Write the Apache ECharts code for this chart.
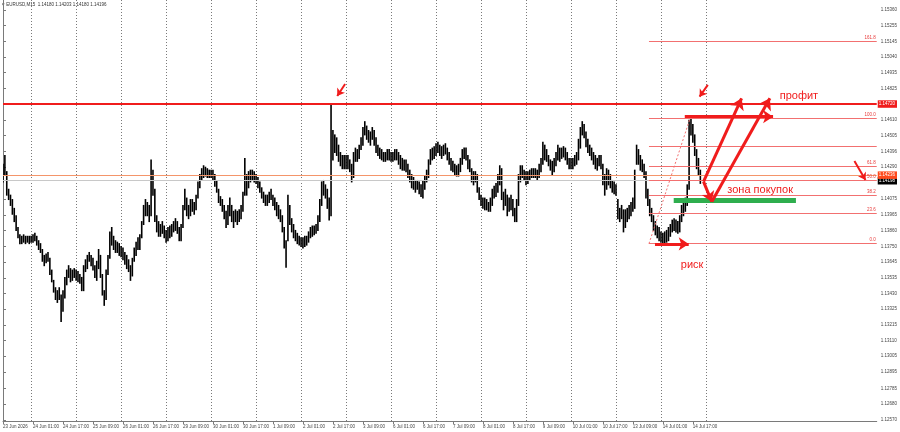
<!DOCTYPE html>
<html><head><meta charset="utf-8">
<script src="https://cdn.jsdelivr.net/npm/echarts@6/dist/echarts.min.js"></script>
<style>html,body{margin:0;padding:0;background:#fff}#c{width:900px;height:432px}</style>
</head><body><div id="c"></div>
<script>
// hourly highs (bar index 0 = 23 Jun 09:00)
const hiVals = [
1.1431,1.1437,1.1426,1.1414,1.1410,1.1407,1.1401,1.1396,1.1388,1.1383,1.1382,1.1383,1.1382,1.1382,1.1382,1.1382,
1.1383,1.1384,1.1382,1.1379,1.1377,1.1373,1.1369,1.1370,1.1371,1.1367,1.1359,1.1352,1.1347,1.1345,1.1347,1.1342,1.1345,1.1354,1.1359,1.1362,1.1360,1.1359,1.1360,1.1359,
1.1358,1.1356,1.1354,1.1362,1.1366,1.1369,1.1371,1.1369,1.1367,1.1362,1.1365,1.1373,1.1369,1.1356,1.1345,1.1359,1.1369,1.1385,1.1388,1.1382,1.1379,1.1378,1.1377,1.1375,
1.1374,1.1371,1.1369,1.1366,1.1362,1.1367,1.1374,1.1378,1.1381,1.1383,1.1392,1.1403,1.1407,1.1405,1.1403,1.1434,1.1427,1.1414,1.1396,1.1392,1.1390,1.1392,1.1389,1.1386,
1.1388,1.1389,1.1390,1.1392,1.1394,1.1392,1.1388,1.1390,1.1403,1.1414,1.1408,1.1403,1.1407,1.1407,1.1405,1.1410,1.1419,1.1424,1.1428,1.1430,1.1429,1.1428,1.1427,1.1427,
1.1427,1.1424,1.1420,1.1414,1.1409,1.1407,1.1403,1.1399,1.1403,1.1408,1.1403,1.1399,1.1400,1.1399,1.1400,1.1403,1.1412,1.1435,1.1424,1.1426,1.1427,1.1427,1.1426,1.1424,
1.1422,1.1419,1.1415,1.1412,1.1410,1.1410,1.1412,1.1414,1.1410,1.1408,1.1405,1.1403,1.1400,1.1396,1.1388,1.1379,1.1410,1.1403,1.1394,1.1390,1.1386,1.1384,1.1382,1.1381,
1.1381,1.1382,1.1382,1.1385,1.1388,1.1389,1.1389,1.1390,1.1396,1.1407,1.1419,1.1420,1.1417,1.1414,1.1408,1.1471,1.1454,1.1451,1.1449,1.1444,1.1439,1.1437,1.1437,1.1437,
1.1437,1.1434,1.1431,1.1439,1.1442,1.1441,1.1444,1.1449,1.1456,1.1460,1.1457,1.1454,1.1453,1.1456,1.1454,1.1449,1.1444,1.1442,1.1441,1.1439,1.1439,1.1441,1.1441,1.1439,
1.1439,1.1441,1.1441,1.1439,1.1437,1.1435,1.1434,1.1434,1.1431,1.1427,1.1424,1.1422,1.1420,1.1420,1.1419,1.1417,1.1420,1.1423,1.1427,1.1434,1.1441,1.1442,1.1443,1.1445,
1.1446,1.1444,1.1443,1.1444,1.1445,1.1442,1.1439,1.1435,1.1433,1.1431,1.1430,1.1431,1.1435,1.1441,1.1442,1.1442,1.1437,1.1434,1.1428,1.1426,1.1426,1.1424,1.1415,1.1410,
1.1408,1.1408,1.1407,1.1405,1.1408,1.1414,1.1416,1.1418,1.1424,1.1430,1.1428,1.1412,1.1414,1.1410,1.1408,1.1410,1.1407,1.1401,1.1407,1.1424,1.1430,1.1430,1.1427,1.1426,
1.1426,1.1427,1.1428,1.1428,1.1428,1.1427,1.1431,1.1435,1.1446,1.1444,1.1441,1.1437,1.1434,1.1433,1.1435,1.1439,1.1444,1.1442,1.1442,1.1443,1.1442,1.1439,1.1435,1.1435,
1.1435,1.1437,1.1439,1.1448,1.1456,1.1460,1.1458,1.1453,1.1448,1.1444,1.1442,1.1439,1.1437,1.1435,1.1437,1.1437,1.1431,1.1424,1.1428,1.1427,1.1424,1.1420,1.1419,1.1417,
1.1407,1.1401,1.1403,1.1400,1.1400,1.1401,1.1403,1.1405,1.1408,1.1427,1.1444,1.1441,1.1437,1.1434,1.1431,1.1426,1.1414,1.1407,1.1401,1.1396,1.1392,1.1389,1.1388,1.1385,
1.1384,1.1385,1.1386,1.1388,1.1390,1.1393,1.1394,1.1393,1.1392,1.1396,1.1403,1.1407,1.1408,1.1417,1.1461,1.1463,1.1458,1.1451,1.1441,1.1435,1.1427
];
// hourly lows
const loVals = [
1.1419,1.1424,1.1410,1.1407,1.1403,1.1397,1.1392,1.1386,1.1381,1.1377,1.1377,1.1378,1.1377,1.1378,1.1377,1.1378,
1.1378,1.1379,1.1376,1.1373,1.1371,1.1365,1.1362,1.1364,1.1365,1.1356,1.1351,1.1344,1.1339,1.1337,1.1339,1.1324,1.1331,1.1340,1.1349,1.1354,1.1351,1.1352,1.1354,1.1352,
1.1351,1.1350,1.1345,1.1345,1.1358,1.1360,1.1365,1.1362,1.1359,1.1354,1.1352,1.1360,1.1354,1.1342,1.1335,1.1339,1.1356,1.1367,1.1376,1.1373,1.1371,1.1371,1.1369,1.1368,
1.1366,1.1363,1.1360,1.1358,1.1352,1.1355,1.1365,1.1369,1.1373,1.1373,1.1381,1.1390,1.1396,1.1396,1.1392,1.1396,1.1410,1.1392,1.1385,1.1382,1.1382,1.1384,1.1381,1.1378,
1.1379,1.1381,1.1382,1.1385,1.1386,1.1384,1.1379,1.1379,1.1388,1.1400,1.1396,1.1394,1.1396,1.1399,1.1397,1.1400,1.1408,1.1415,1.1420,1.1422,1.1423,1.1422,1.1422,1.1422,
1.1420,1.1416,1.1412,1.1405,1.1403,1.1399,1.1394,1.1388,1.1390,1.1396,1.1392,1.1388,1.1392,1.1390,1.1392,1.1394,1.1399,1.1410,1.1410,1.1415,1.1419,1.1420,1.1419,1.1418,
1.1415,1.1412,1.1408,1.1405,1.1403,1.1403,1.1405,1.1407,1.1403,1.1400,1.1396,1.1394,1.1392,1.1385,1.1374,1.1361,1.1379,1.1390,1.1385,1.1381,1.1379,1.1377,1.1376,1.1375,
1.1374,1.1375,1.1376,1.1378,1.1381,1.1382,1.1383,1.1384,1.1386,1.1392,1.1403,1.1410,1.1408,1.1401,1.1393,1.1396,1.1434,1.1439,1.1437,1.1433,1.1430,1.1428,1.1428,1.1428,
1.1428,1.1426,1.1419,1.1422,1.1433,1.1433,1.1435,1.1441,1.1444,1.1451,1.1448,1.1446,1.1444,1.1448,1.1444,1.1439,1.1437,1.1435,1.1434,1.1433,1.1433,1.1434,1.1434,1.1433,
1.1433,1.1434,1.1434,1.1431,1.1428,1.1427,1.1427,1.1426,1.1422,1.1419,1.1415,1.1414,1.1412,1.1414,1.1411,1.1409,1.1408,1.1414,1.1419,1.1422,1.1431,1.1434,1.1435,1.1437,
1.1439,1.1437,1.1435,1.1437,1.1438,1.1434,1.1431,1.1427,1.1426,1.1424,1.1423,1.1423,1.1426,1.1431,1.1435,1.1434,1.1428,1.1426,1.1419,1.1417,1.1419,1.1412,1.1407,1.1403,
1.1401,1.1400,1.1400,1.1399,1.1399,1.1403,1.1408,1.1409,1.1412,1.1417,1.1407,1.1400,1.1403,1.1396,1.1399,1.1400,1.1396,1.1392,1.1392,1.1403,1.1419,1.1422,1.1420,1.1417,
1.1418,1.1420,1.1422,1.1422,1.1422,1.1420,1.1422,1.1426,1.1431,1.1434,1.1433,1.1430,1.1427,1.1424,1.1426,1.1430,1.1434,1.1433,1.1435,1.1436,1.1434,1.1431,1.1428,1.1428,
1.1428,1.1430,1.1431,1.1434,1.1442,1.1451,1.1449,1.1443,1.1439,1.1437,1.1434,1.1431,1.1428,1.1427,1.1430,1.1428,1.1417,1.1410,1.1414,1.1417,1.1415,1.1412,1.1411,1.1410,
1.1394,1.1392,1.1394,1.1385,1.1388,1.1392,1.1394,1.1396,1.1399,1.1401,1.1431,1.1431,1.1427,1.1426,1.1422,1.1408,1.1403,1.1396,1.1392,1.1386,1.1383,1.1381,1.1379,1.1378,
1.1377,1.1377,1.1378,1.1379,1.1382,1.1385,1.1386,1.1385,1.1384,1.1385,1.1392,1.1396,1.1399,1.1403,1.1414,1.1451,1.1446,1.1437,1.1428,1.1424,1.1418
];
const xTickIdx = [0,16,32,48,64,80,96,112,128,144,160,176,192,208,224,240,256,272,288,304,320,336,352,368];
const xTickLabels = ['23 Jun 2026','24 Jun 01:00','24 Jun 17:00','25 Jun 09:00','26 Jun 01:00','26 Jun 17:00','29 Jun 09:00','30 Jun 01:00','30 Jun 17:00','1 Jul 09:00','2 Jul 01:00','2 Jul 17:00','3 Jul 09:00','6 Jul 01:00','6 Jul 17:00','7 Jul 09:00','8 Jul 01:00','8 Jul 17:00','9 Jul 09:00','10 Jul 01:00','10 Jul 17:00','13 Jul 09:00','14 Jul 01:00','14 Jul 17:00'];
const dayStartIdx = [15,39,63,87,111,135,159,183,207,231,255,279,303,327,351,375];
const yTickVals = [1.15360,1.15255,1.15145,1.15040,1.14935,1.14825,1.14610,1.14505,1.14396,1.14290,1.14075,1.13965,1.13860,1.13750,1.13645,1.13535,1.13430,1.13325,1.13215,1.13110,1.13005,1.12895,1.12785,1.12680,1.12570];
const fibNames = ['0.0','23.6','38.2','50.0','61.8','','100.0','161.8'];
const fibPrices = [1.13770,1.13975,1.14098,1.14200,1.14298,1.14434,1.14622,1.15149];
const resistPrice = 1.14720, askPrice = 1.14236, bidPrice = 1.14198;
const titleText = '\u25BE EURUSD,M15  1.14180 1.14203 1.14180 1.14196';

const RED = '#f01c1c';
const FONT = 'Liberation Sans';
const yMin = 1.12563, yMax = 1.15428;
const barData = hiVals.map((h, k) => [k, h, loVals[k]]);

function seg(x1, y1, x2, y2, color, width, arrow, asz, type) {
  return [
    {coord: [x1, y1], symbol: 'none', lineStyle: {color, width, type: type || 'solid'}},
    {coord: [x2, y2], symbol: arrow ? 'arrow' : 'none', symbolSize: asz || 9, itemStyle: {color}}
  ];
}
const fibStart = 344.6, xMax = 466.1;
const markSegs = [];
fibPrices.forEach((p, k) => {
  const s = seg(fibStart, p, xMax, p, '#f27070', 1, false);
  s[0].label = {show: !!fibNames[k], formatter: fibNames[k], position: 'insideEndTop', color: '#e83a3a', fontSize: 4.5, distance: 1, fontFamily: FONT};
  markSegs.push(s);
});
markSegs.push(seg(fibStart, fibPrices[0], 366.5, fibPrices[6], '#f27070', 1, false, 0, [2, 2]));
// bold annotations
markSegs.push(seg(357.8, 1.14062, 423.0, 1.14062, '#2fae4e', 5, false));
markSegs.push(seg(363.7, 1.14634, 410.8, 1.14634, RED, 3, true, 10));
markSegs.push(seg(347.8, 1.13768, 365.8, 1.13768, RED, 3, true, 10));
markSegs.push(seg(373.7, 1.14192, 394.0, 1.14759, RED, 3, true, 11));
markSegs.push(seg(373.7, 1.14192, 378.1, 1.14055, RED, 3, true, 10));
markSegs.push(seg(378.1, 1.14055, 409.1, 1.14759, RED, 3, true, 11));
markSegs.push(seg(182.5, 1.14856, 178.3, 1.14775, RED, 2, true, 7));
markSegs.push(seg(376.0, 1.14850, 371.6, 1.14770, RED, 2, true, 7));
markSegs.push(seg(454.2, 1.14332, 460.1, 1.14203, RED, 2, true, 7));

function hLine(p, color, width, boxColor, txt) {
  return [
    {coord: [0, p], symbol: 'none', lineStyle: {color, width, type: 'solid'},
      label: {show: true, position: 'end', formatter: txt, backgroundColor: boxColor, color: '#fff',
        fontSize: 4.5, padding: [1.5, 2, 1, 1], distance: 1, fontFamily: FONT}},
    {coord: [xMax, p], symbol: 'none'}
  ];
}
// day separators as explicit vertical segments
const vLines = dayStartIdx.map(d => seg(d, yMin, d, yMax, '#7a7a7a', 1, false, 0, [1, 2]));

const texts = [
  {coord: [424.6, 1.14775], t: '\u043f\u0440\u043e\u0444\u0438\u0442'},
  {coord: [403.9, 1.14138], t: '\u0437\u043e\u043d\u0430 \u043f\u043e\u043a\u0443\u043f\u043e\u043a'},
  {coord: [367.6, 1.13625], t: '\u0440\u0438\u0441\u043a'}
];

const chart = echarts.init(document.getElementById('c'), null, {renderer: 'canvas'});
chart.setOption({
  animation: false,
  backgroundColor: '#ffffff',
  grid: {left: 0, right: 20, top: 0, bottom: 11, containLabel: false},
  xAxis: {
    type: 'value', min: 0, max: xMax,
    axisLine: {show: true, lineStyle: {color: '#7a7a7a', width: 1}},
    splitLine: {show: false}, minorSplitLine: {show: false},
    axisTick: {show: true, customValues: xTickIdx, length: 3, lineStyle: {color: '#7a7a7a'}},
    axisLabel: {customValues: xTickIdx, formatter: v => xTickLabels[xTickIdx.indexOf(v)] || '',
      align: 'left', fontSize: 4.5, color: '#444', margin: 3, fontFamily: FONT}
  },
  yAxis: {
    type: 'value', position: 'right', min: yMin, max: yMax,
    axisLine: {show: true, lineStyle: {color: '#7a7a7a', width: 1}},
    splitLine: {show: false}, minorSplitLine: {show: false},
    axisTick: {show: true, customValues: yTickVals, length: 3, lineStyle: {color: '#7a7a7a'}},
    axisLabel: {customValues: yTickVals, formatter: v => v.toFixed(5), fontSize: 4.5,
      color: '#444', margin: 4, fontFamily: FONT}
  },
  graphic: [{type: 'text', left: 2, top: 2, style: {text: titleText, fontSize: 4.5, fill: '#333', fontFamily: FONT}}],
  series: [
    {
      type: 'custom', data: barData, clip: true, z: 2,
      encode: {x: 0, y: [1, 2]},
      renderItem: (params, api) => {
        const a = api.coord([api.value(0), api.value(1)]);
        const b = api.coord([api.value(0), api.value(2)]);
        return {type: 'line', shape: {x1: a[0], y1: a[1] - 0.5, x2: b[0], y2: b[1] + 0.5},
          style: {stroke: '#000', lineWidth: 1.6}};
      },
      markLine: {silent: true, animation: false, precision: 6, symbol: 'none', label: {show: false}, z: 1, data: vLines}
    },
    {
      type: 'line', data: [], clip: false, silent: true, z: 3,
      markLine: {silent: true, animation: false, precision: 6, symbol: 'none', label: {show: false},
        data: [
          hLine(bidPrice, '#c8c8c8', 1, '#000000', bidPrice.toFixed(5)),
          hLine(askPrice, '#f4956a', 1, '#ff4a1c', askPrice.toFixed(5)),
          hLine(resistPrice, RED, 2, RED, resistPrice.toFixed(5))
        ]}
    },
    {
      type: 'line', data: [], clip: false, silent: true, z: 4,
      markLine: {silent: true, animation: false, precision: 6, symbol: 'none', label: {show: false}, data: markSegs},
      markPoint: {silent: true, animation: false, symbol: 'circle', symbolSize: 1,
        itemStyle: {color: 'rgba(0,0,0,0)'},
        data: texts.map(d => ({coord: d.coord, label: {show: true, position: 'inside', formatter: d.t,
          color: RED, fontSize: 11, fontFamily: FONT}}))}
    }
  ]
});
</script></body></html>
